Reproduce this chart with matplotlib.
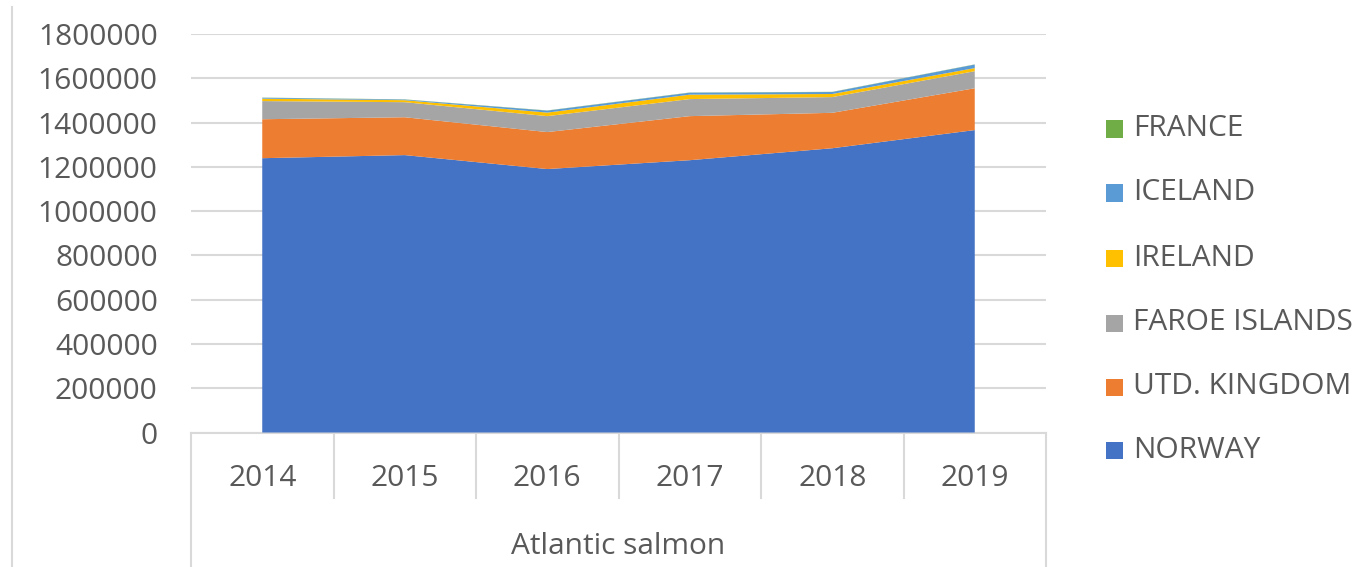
import matplotlib
matplotlib.use("Agg")
import matplotlib.pyplot as plt
from matplotlib.patches import Rectangle
from matplotlib.lines import Line2D
import numpy as np

years = ["2014", "2015", "2016", "2017", "2018", "2019"]
group_label = "Atlantic salmon"
series_names = ["NORWAY", "UTD. KINGDOM", "FAROE ISLANDS", "IRELAND", "ICELAND", "FRANCE"]
norway = [1239000, 1253000, 1190000, 1230000, 1284000, 1366000]
utd_kingdom = [176000, 171000, 167000, 199000, 160000, 189000]
faroe_islands = [82000, 68000, 72000, 77000, 71000, 77000]
ireland = [11000, 9000, 16000, 20000, 14000, 14000]
iceland = [4000, 3000, 9000, 9000, 9000, 16000]
france = [800, 800, 800, 800, 800, 800]
colors = ["#4472C4", "#ED7D31", "#A5A5A5", "#FFC000", "#5B9BD5", "#70AD47"]

FONT = "Open Sans"
TXT = "#595959"
GRID = "#D9D9D9"
FS = 21.5

W, H = 1360, 567
fig = plt.figure(figsize=(W / 100, H / 100), dpi=100)
left, right, top, bottom = 191, 1046, 34, 432.5
ax = fig.add_axes([left / W, 1 - bottom / H, (right - left) / W, (bottom - top) / H])

x = np.arange(len(years))
data = [norway, utd_kingdom, faroe_islands, ireland, iceland, france]
ax.stackplot(x, *data, colors=colors, labels=series_names, linewidth=0, zorder=3)

ax.set_xlim(-0.5, len(years) - 0.5)
ax.set_ylim(0, 1800000)
yt = np.arange(0, 1800001, 200000)
ax.set_yticks(yt)
ax.set_yticklabels([str(v) for v in yt], fontfamily=FONT, fontsize=FS, color=TXT)
ax.tick_params(axis="y", length=0, pad=24)
ax.yaxis.grid(True, color=GRID, linewidth=1.5, zorder=0)
ax.set_axisbelow(True)

ax.set_xticks(x)
ax.set_xticklabels(years, fontfamily=FONT, fontsize=FS, color=TXT)
for lab in ax.get_xticklabels():
    lab.set_va("center")
ax.tick_params(axis="x", length=0, pad=33)

for s in ["top", "right", "left"]:
    ax.spines[s].set_visible(False)
ax.spines["bottom"].set_color(GRID)
ax.spines["bottom"].set_linewidth(1.5)

# multi-level category axis boxes
trans = ax.get_xaxis_transform()
ax_h = bottom - top
sep_bottom = -(498 - bottom) / ax_h
fig_bottom = -(H - bottom) / ax_h
for i in range(1, len(years)):
    ax.add_line(Line2D([i - 0.5, i - 0.5], [0, sep_bottom], transform=trans,
                       color=GRID, linewidth=1.5, clip_on=False))
for xe in [-0.5, len(years) - 0.5]:
    ax.add_line(Line2D([xe, xe], [0, fig_bottom], transform=trans,
                       color=GRID, linewidth=1.5, clip_on=False))
ax.text((len(years) - 1) / 2, -(546 - bottom) / ax_h, group_label, transform=trans,
        ha="center", va="center", fontfamily=FONT, fontsize=FS, color=TXT)

# outer chart border fragment
fig.add_artist(Line2D([12 / W, 12 / W], [0, 1 - 7 / H], color=GRID, linewidth=1.5))

# legend (top to bottom: reverse stacking order)
leg_rows = [129, 193, 258, 323, 387, 450]
for name, col, yy in zip(series_names[::-1], colors[::-1], leg_rows):
    sq = 17
    fig.add_artist(Rectangle((1106 / W, 1 - (yy + sq / 2) / H), sq / W, sq / H,
                             facecolor=col, edgecolor="none"))
    fig.text(1133 / W, 1 - yy / H, name, ha="left", va="center",
             fontfamily=FONT, fontsize=FS, color=TXT)

fig.savefig("out.png", dpi=100)
